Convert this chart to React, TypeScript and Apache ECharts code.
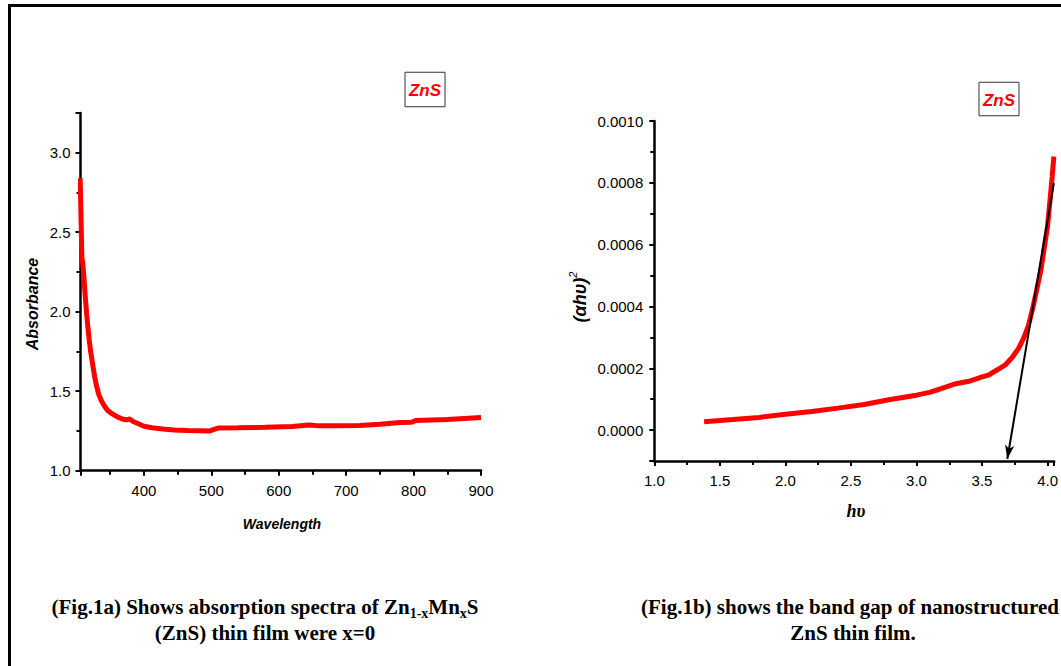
import React, { useEffect, useRef } from "react";
import * as echarts from "echarts";

// Fig.1a – absorption spectrum
const wavelength = [305.5, 307, 308, 309.5, 311, 313, 315, 317, 319, 321, 324, 327, 330, 333, 337, 341, 346, 352, 360, 368, 374, 379, 384, 392, 400, 412, 428, 445, 465, 485, 498, 503, 510, 540, 580, 620, 645, 660, 690, 720, 750, 780, 797, 803, 850, 900];
const absorbance = [2.84, 2.55, 2.34, 2.3, 2.22, 2.1, 1.99, 1.9, 1.82, 1.75, 1.67, 1.59, 1.53, 1.48, 1.44, 1.41, 1.38, 1.36, 1.34, 1.325, 1.32, 1.325, 1.31, 1.295, 1.28, 1.27, 1.262, 1.256, 1.253, 1.252, 1.25, 1.258, 1.268, 1.27, 1.273, 1.278, 1.288, 1.282, 1.282, 1.285, 1.292, 1.303, 1.305, 1.315, 1.322, 1.335];

// Fig.1b – Tauc plot
const photonEnergy = [1.38, 1.6, 1.8, 2.0, 2.2, 2.4, 2.6, 2.8, 3.0, 3.1, 3.2, 3.3, 3.4, 3.5, 3.55, 3.62, 3.68, 3.73, 3.78, 3.82, 3.855, 3.89, 3.92, 3.95, 3.975, 4.0, 4.02, 4.035, 4.048];
const ahv2 = [0.000027, 0.000034, 0.000041, 0.000051, 0.00006, 0.000071, 0.000083, 0.000099, 0.000113, 0.000122, 0.000136, 0.00015, 0.000158, 0.000172, 0.000178, 0.000196, 0.000212, 0.000235, 0.000265, 0.0003, 0.00034, 0.0004, 0.00046, 0.00052, 0.00059, 0.00066, 0.00075, 0.00082, 0.000885];

// tangent (band-gap extrapolation) arrow: start and end
const arrowX = [4.048, 3.693];
const arrowY = [0.000799, -0.0000935];

const seriesLabel = "ZnS";
const captionA1 = ["(Fig.1a) Shows absorption spectra of Zn", "1-x", "Mn", "x", "S"];
const captionA2 = "(ZnS) thin film were x=0";
const captionB1 = "(Fig.1b) shows the band gap of nanostructured";
const captionB2 = "ZnS thin film.";

const tickFont = { fontFamily: "Liberation Sans", fontSize: 15, color: "#000" };

function axisCommon(extra: any) {
  return {
    type: "value",
    axisLine: { show: true, onZero: false, lineStyle: { color: "#000", width: 2.5 } },
    axisTick: { show: true, inside: false, length: 5, lineStyle: { color: "#000", width: 2 } },
    minorTick: { show: true, splitNumber: 2, length: 4, lineStyle: { color: "#000", width: 2 } },
    splitLine: { show: false },
    minorSplitLine: { show: false },
    ...extra,
  };
}

export default function App() {
  const ref = useRef<HTMLDivElement>(null);
  useEffect(() => {
    if (!ref.current) return;
    const chart = echarts.init(ref.current, undefined, { renderer: "svg" });
    const labelBox = (cx: number, cy: number, w: number, h: number) => ({
      type: "group",
      children: [
        { type: "rect", shape: { x: cx - w / 2, y: cy - h / 2, width: w, height: h }, style: { fill: "#fff", stroke: "#333", lineWidth: 1 } },
        {
          type: "text", x: cx, y: cy + 1,
          style: { text: seriesLabel, fill: "#ff0000", font: "italic bold 17px 'Liberation Sans'", align: "center", verticalAlign: "middle" },
        },
      ],
    });
    const capFont = "bold 21px 'Liberation Serif'";
    chart.setOption({
      animation: false,
      grid: [
        { left: 80.5, top: 113, width: 400.5, height: 357.7 },
        { left: 654.3, top: 121, width: 401.4, height: 340 },
      ],
      xAxis: [
        axisCommon({
          gridIndex: 0, min: 306, max: 900,
          axisLabel: { ...tickFont, margin: 12, showMinLabel: false, formatter: (v: number) => String(Math.round(v)) },
        }),
        axisCommon({
          gridIndex: 1, min: 1.0, max: 4.05,
          axisLabel: { ...tickFont, margin: 12, showMaxLabel: false, formatter: (v: number) => v.toFixed(1) },
        }),
      ],
      yAxis: [
        axisCommon({
          gridIndex: 0, min: 1.0, max: 3.25,
          axisLabel: { ...tickFont, margin: 10, showMaxLabel: false, formatter: (v: number) => v.toFixed(1) },
        }),
        axisCommon({
          gridIndex: 1, min: -0.0001, max: 0.001,
          axisLabel: { ...tickFont, margin: 11, showMinLabel: false, formatter: (v: number) => Math.abs(v) < 1e-9 ? "0.0000" : v.toFixed(4) },
        }),
      ],
      series: [
        {
          type: "line", xAxisIndex: 0, yAxisIndex: 0, symbol: "none",
          lineStyle: { color: "#ff0000", width: 5 },
          data: wavelength.map((w, i) => [w, absorbance[i]]),
        },
        {
          type: "line", xAxisIndex: 1, yAxisIndex: 1, symbol: "none",
          lineStyle: { color: "#ff0000", width: 5 },
          data: photonEnergy.map((e, i) => [e, ahv2[i]]),
          markLine: {
            silent: true,
            symbol: ["none", "arrow"],
            symbolSize: [7, 14],
            label: { show: false },
            itemStyle: { color: "#000" },
            lineStyle: { color: "#000", width: 2, type: "solid" },
            data: [[{ coord: [arrowX[0], arrowY[0]] }, { coord: [arrowX[1], arrowY[1]] }]],
          },
        },
      ],
      graphic: [
        { type: "line", shape: { x1: 9.5, y1: 4, x2: 9.5, y2: 666 }, style: { stroke: "#000", lineWidth: 3 } },
        { type: "line", shape: { x1: 8, y1: 5.5, x2: 1061, y2: 5.5 }, style: { stroke: "#000", lineWidth: 3 } },
        labelBox(425, 89.5, 40, 34.5),
        labelBox(999, 99, 40, 33.5),
        {
          type: "text", x: 32.5, y: 304, rotation: Math.PI / 2,
          style: { text: "Absorbance", fill: "#000", font: "italic bold 16px 'Liberation Sans'", align: "center", verticalAlign: "middle" },
        },
        {
          type: "text", x: 282, y: 524,
          style: { text: "Wavelength", fill: "#000", font: "italic bold 14px 'Liberation Sans'", align: "center", verticalAlign: "middle" },
        },
        {
          type: "text", x: 578, y: 297, rotation: Math.PI / 2,
          style: {
            text: "{a|(αhυ)}{s|2}", align: "center", verticalAlign: "middle",
            rich: {
              a: { fill: "#000", font: "italic bold 18px 'Liberation Sans'", lineHeight: 22, verticalAlign: "bottom" },
              s: { fill: "#000", font: "italic 11px 'Liberation Sans'", lineHeight: 22, verticalAlign: "top" },
            },
          },
        },
        {
          type: "text", x: 856, y: 511,
          style: { text: "hυ", fill: "#000", font: "italic bold 18px 'Liberation Serif'", align: "center", verticalAlign: "middle" },
        },
        {
          type: "text", x: 265, y: 607,
          style: {
            text: `{n|${captionA1[0]}}{s|${captionA1[1]}}{n|${captionA1[2]}}{s|${captionA1[3]}}{n|${captionA1[4]}}`,
            align: "center", verticalAlign: "middle",
            rich: {
              n: { fill: "#000", font: capFont, lineHeight: 26, verticalAlign: "middle" },
              s: { fill: "#000", font: "bold 14px 'Liberation Serif'", lineHeight: 14, verticalAlign: "bottom" },
            },
          },
        },
        {
          type: "text", x: 265, y: 633,
          style: { text: captionA2, fill: "#000", font: capFont, align: "center", verticalAlign: "middle" },
        },
        {
          type: "text", x: 850, y: 607,
          style: { text: captionB1, fill: "#000", font: capFont, align: "center", verticalAlign: "middle" },
        },
        {
          type: "text", x: 853, y: 633,
          style: { text: captionB2, fill: "#000", font: capFont, align: "center", verticalAlign: "middle" },
        },
      ],
    });
    return () => chart.dispose();
  }, []);
  return <div ref={ref} style={{ position: "absolute", left: 0, top: 0, width: 1061, height: 666, background: "#fff" }} />;
}
